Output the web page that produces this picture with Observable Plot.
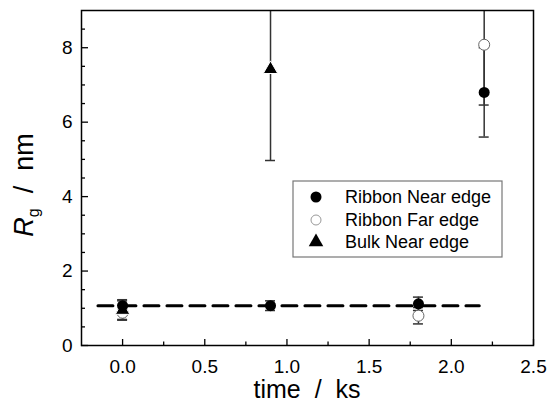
<!DOCTYPE html>
<html>
<head>
<meta charset="utf-8">
<script src="https://cdn.jsdelivr.net/npm/d3@7"></script>
<script src="https://cdn.jsdelivr.net/npm/@observablehq/plot@0.6"></script>
<style>
  html, body { margin: 0; padding: 0; background: #fff; }
  svg { font-family: "Liberation Sans", Arial, sans-serif; }
</style>
</head>
<body>
<div id="chart"></div>
<script>
// ---- data ----
const seriesNames = ["Ribbon Near edge", "Ribbon Far edge", "Bulk Near edge"];

const ribbonNearTime = [0, 0.9, 1.8, 2.2];
const ribbonNearRg   = [1.07, 1.07, 1.12, 6.8];
const ribbonNearErr  = [0.16, 0.13, 0.18, 1.2];

const ribbonFarTime = [0, 1.8, 2.2];
const ribbonFarRg   = [0.88, 0.80, 8.08];
const ribbonFarErr  = [0.20, 0.22, 1.62];

const bulkNearTime = [0, 0.9];
const bulkNearRg   = [0.95, 7.42];
const bulkNearErr  = [0.25, 2.45];

const fitLevel = 1.07;
const fitRange = [-0.15, 2.17];

const xMajorTicks = [0, 0.5, 1.0, 1.5, 2.0, 2.5];
const xMinorTicks = [0.25, 0.75, 1.25, 1.75, 2.25];
const yMajorTicks = [0, 2, 4, 6, 8];
const yMinorTicks = [0.5, 1, 1.5, 2.5, 3, 3.5, 4.5, 5, 5.5, 6.5, 7, 7.5, 8.5];

// ---- build table ----
function build(name, ts, vs, es) {
  return ts.map((t, i) => ({series: name, t, v: vs[i], lo: vs[i] - es[i], hi: vs[i] + es[i]}));
}
const near = build(seriesNames[0], ribbonNearTime, ribbonNearRg, ribbonNearErr);
const far = build(seriesNames[1], ribbonFarTime, ribbonFarRg, ribbonFarErr);
const bulk = build(seriesNames[2], bulkNearTime, bulkNearRg, bulkNearErr);
const all = [...near, ...far, ...bulk];
const fitLine = fitRange.map(t => ({t, v: fitLevel}));

const errColor = "#333";
const font = 19;

const plot = Plot.plot({
  width: 549,
  height: 402,
  marginTop: 10,
  marginRight: 16,
  marginBottom: 57,
  marginLeft: 81,
  style: {fontFamily: '"Liberation Sans", Arial, sans-serif', background: "white"},
  x: {domain: [-0.25, 2.5], label: null},
  y: {domain: [0, 9], label: null},
  marks: [
    Plot.line(fitLine, {x: "t", y: "v", stroke: "black", strokeWidth: 3, strokeDasharray: "15,8"}),
    Plot.ruleX(all, {x: "t", y1: "lo", y2: "hi", stroke: errColor, strokeWidth: 1.5, clip: true}),
    Plot.ruleY(all, {y: "lo", x1: "t", x2: "t", insetLeft: -5, insetRight: -5, stroke: errColor, strokeWidth: 1.5, clip: true}),
    Plot.ruleY(all, {y: "hi", x1: "t", x2: "t", insetLeft: -5, insetRight: -5, stroke: errColor, strokeWidth: 1.5, clip: true}),
    Plot.dot(far, {x: "t", y: "v", symbol: "circle", r: 5.5, fill: "white", stroke: "#666", strokeWidth: 1}),
    Plot.dot(bulk, {x: "t", y: "v", symbol: "triangle", r: 5.4, fill: "black", stroke: "white", strokeWidth: 1}),
    Plot.dot(near, {x: "t", y: "v", symbol: "circle", r: 5.5, fill: "black"}),
    // axes: labels
    Plot.axisX({ticks: xMajorTicks, tickSize: 0, tickPadding: 14, tickFormat: d3.format(".1f"), fontSize: font, fill: "black", label: null}),
    Plot.axisY({ticks: yMajorTicks, tickSize: 0, tickPadding: 9, tickFormat: d3.format("d"), fontSize: font, fill: "black", label: null}),
    // inward ticks
    Plot.axisX({ticks: xMajorTicks, tickSize: -6, tickFormat: () => "", strokeWidth: 1.3, label: null}),
    Plot.axisX({ticks: xMinorTicks, tickSize: -3.5, tickFormat: () => "", strokeWidth: 1.3, label: null}),
    Plot.axisY({ticks: yMajorTicks, tickSize: -7, tickFormat: () => "", strokeWidth: 1.3, label: null}),
    Plot.axisY({ticks: yMinorTicks, tickSize: -4, tickFormat: () => "", strokeWidth: 1.3, label: null}),
    Plot.frame({stroke: "black", strokeWidth: 1.5})
  ]
});

document.getElementById("chart").appendChild(plot);

// ---- axis titles and legend ----
const svg = d3.select(plot);
const NB = "\u00a0";

svg.append("text")
  .attr("x", 307).attr("y", 398)
  .attr("text-anchor", "middle")
  .attr("font-size", 25)
  .attr("fill", "black")
  .text("time" + NB + NB + "/" + NB + NB + "ks");

const yt = svg.append("text")
  .attr("transform", "translate(33,185) rotate(-90)")
  .attr("text-anchor", "middle")
  .attr("font-size", 27)
  .attr("fill", "black");
yt.append("tspan").attr("font-style", "italic").text("R");
yt.append("tspan").attr("font-size", 16).attr("dy", 6).text("g");
yt.append("tspan").attr("dy", -6).text(NB + NB + "/" + NB + NB + "nm");

const lg = svg.append("g");
lg.append("rect")
  .attr("x", 293).attr("y", 181).attr("width", 209).attr("height", 76)
  .attr("fill", "white").attr("stroke", "#777").attr("stroke-width", 1.2);
const rows = [197, 220, 242];
const sym = [
  {type: d3.symbolCircle, fill: "black", stroke: "none", size: Math.PI * 5.5 * 5.5},
  {type: d3.symbolCircle, fill: "white", stroke: "#999", size: Math.PI * 5 * 5},
  {type: d3.symbolTriangle, fill: "black", stroke: "none", size: Math.PI * 5.4 * 5.4}
];
seriesNames.forEach((name, i) => {
  lg.append("path")
    .attr("transform", `translate(316,${rows[i]})`)
    .attr("d", d3.symbol(sym[i].type, sym[i].size)())
    .attr("fill", sym[i].fill).attr("stroke", sym[i].stroke);
  lg.append("text")
    .attr("x", 345).attr("y", rows[i]).attr("dy", "0.35em")
    .attr("text-anchor", "start")
    .attr("font-size", 18).attr("fill", "black")
    .text(name);
});
</script>
</body>
</html>
